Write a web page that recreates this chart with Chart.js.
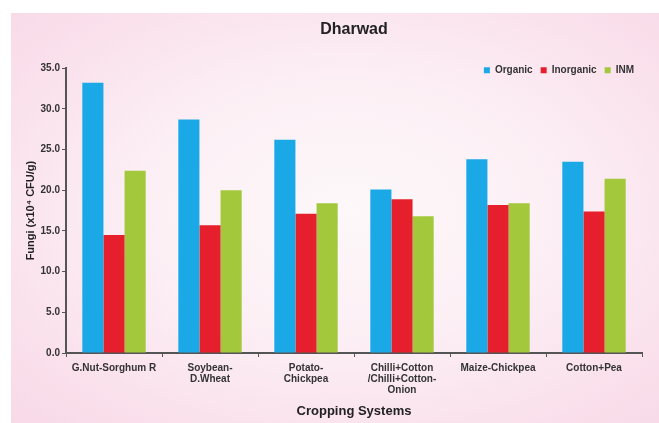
<!DOCTYPE html>
<html>
<head>
<meta charset="utf-8">
<script src="https://cdn.jsdelivr.net/npm/chart.js@4"></script>
<style>
    html, body {
        margin: 0;
        padding: 0;
        background: #ffffff;
    }
    #painel {
        position: absolute;
        left: 11px;
        top: 13px;
        width: 648px;
        height: 410px;
        background: radial-gradient(ellipse at 52% 48%, #fdf8fa 0%, #fcf0f5 40%, #fae2ed 75%, #f8d9e7 100%);
    }
    #caixa {
        position: absolute;
        left: 0;
        top: 0;
        width: 659px;
        height: 423px;
    }
</style>
</head>
<body>
<div id="painel"></div>
<div id="caixa"><canvas id="grafico" width="659" height="423"></canvas></div>
<script>
const sistemas = [
    'G.Nut-Sorghum R',
    ['Soybean-', 'D.Wheat'],
    ['Potato-', 'Chickpea'],
    ['Chilli+Cotton', '/Chilli+Cotton-', 'Onion'],
    'Maize-Chickpea',
    'Cotton+Pea'
];

const organico = [33.2, 28.7, 26.2, 20.1, 23.8, 23.5];
const inorganico = [14.5, 15.7, 17.1, 18.9, 18.2, 17.4];
const inm = [22.4, 20.0, 18.4, 16.8, 18.4, 21.4];

const escalaY = [0, 5, 10, 15, 20, 25, 30, 35];

const corTexto = '#333333';
const fonte = 'Liberation Sans, Arial, sans-serif';

// desce a legenda para dentro da area do grafico
const descerLegenda = {
    id: 'descerLegenda',
    afterLayout(chart) {
        const leg = chart.legend;
        if (leg) {
            leg.top += 17;
            leg.bottom += 17;
        }
    }
};

const ctx = document.getElementById('grafico');

const grafico = new Chart(ctx, {
    type: 'bar',
    data: {
        labels: sistemas,
        datasets: [
            { label: 'Organic', data: organico, backgroundColor: '#1aa9e6' },
            { label: 'Inorganic', data: inorganico, backgroundColor: '#e51f2b' },
            { label: 'INM', data: inm, backgroundColor: '#a3c83c' }
        ]
    },
    options: {
        responsive: false,
        animation: false,
        devicePixelRatio: 1,
        layout: {
            padding: { left: 0, right: 17, top: 0, bottom: 0 }
        },
        datasets: {
            bar: {
                categoryPercentage: 0.66,
                barPercentage: 1.0
            }
        },
        plugins: {
            title: {
                display: true,
                text: 'Dharwad',
                fullSize: false,
                color: '#222222',
                font: { family: fonte, size: 16, weight: 'bold' },
                padding: { top: 20, bottom: 1 }
            },
            legend: {
                position: 'top',
                align: 'end',
                fullSize: false,
                labels: {
                    boxWidth: 6,
                    boxHeight: 6,
                    padding: 8,
                    color: corTexto,
                    font: { family: fonte, size: 10, weight: 'bold' }
                }
            },
            tooltip: { enabled: false }
        },
        scales: {
            x: {
                afterFit(s) { s.height = 70; },
                grid: {
                    display: true,
                    offset: true,
                    drawOnChartArea: false,
                    drawTicks: true,
                    tickLength: 4,
                    color: '#555555',
                    lineWidth: 1
                },
                border: { display: true, color: '#555555', width: 2 },
                ticks: {
                    color: corTexto,
                    padding: 6,
                    maxRotation: 0,
                    autoSkip: false,
                    font: { family: fonte, size: 10, weight: 'bold', lineHeight: 1.1 }
                },
                title: {
                    display: true,
                    text: 'Cropping Systems',
                    color: '#222222',
                    font: { family: fonte, size: 13, weight: 'bold' },
                    padding: { top: 0, bottom: 4 }
                }
            },
            y: {
                min: 0,
                max: 35,
                afterFit(s) { s.width = 66; },
                afterBuildTicks(s) {
                    s.ticks = escalaY.map(v => ({ value: v }));
                },
                grid: {
                    display: true,
                    drawOnChartArea: false,
                    drawTicks: true,
                    tickLength: 4,
                    color: '#555555',
                    lineWidth: 1
                },
                border: { display: true, color: '#555555', width: 2 },
                ticks: {
                    color: corTexto,
                    padding: 2,
                    font: { family: fonte, size: 10, weight: 'bold' },
                    callback: v => v.toFixed(1)
                },
                title: {
                    display: true,
                    text: 'Fungi (x10⁴ CFU/g)',
                    color: '#222222',
                    font: { family: fonte, size: 11, weight: 'bold' },
                    padding: { top: 24, bottom: 0 }
                }
            }
        }
    },
    plugins: [descerLegenda]
});
</script>
</body>
</html>
